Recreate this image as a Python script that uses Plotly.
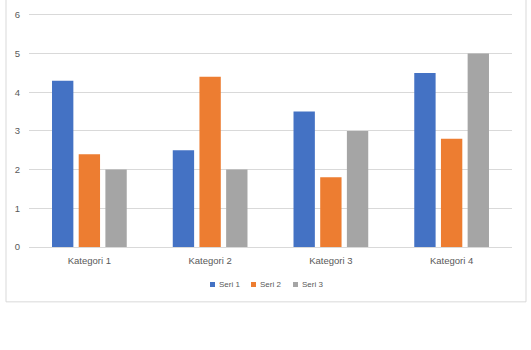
import plotly.graph_objects as go

categories = ["Kategori 1", "Kategori 2", "Kategori 3", "Kategori 4"]
seri1 = [4.3, 2.5, 3.5, 4.5]
seri2 = [2.4, 4.4, 1.8, 2.8]
seri3 = [2.0, 2.0, 3.0, 5.0]
series_names = ["Seri 1", "Seri 2", "Seri 3"]
colors = ["#4472C4", "#ED7D31", "#A5A5A5"]

W, H = 531, 350
YMAX = 6.1
UNIT = 39.0
L, R, B = 29, 19, 103.3
T = H - B - UNIT * YMAX

fig = go.Figure()
for name, vals, c in zip(series_names, [seri1, seri2, seri3], colors):
    fig.add_trace(go.Bar(x=categories, y=vals, name=name, marker_color=c,
                         marker_line_width=0, showlegend=False))

pw = W - L - R
ph = H - T - B
def px2x(p):
    return (p - L) / pw
def px2y(p):
    return (H - B - p) / ph

fig.add_shape(type="rect", xref="paper", yref="paper",
              x0=px2x(6), x1=px2x(526), y0=px2y(302), y1=px2y(-6),
              line=dict(color="#D9D9D9", width=1), fillcolor="rgba(0,0,0,0)", layer="below")

# manual legend
leg_x = [210, 251, 293]
leg_y = 284.5
for name, c, lx in zip(series_names, colors, leg_x):
    fig.add_shape(type="rect", xref="paper", yref="paper",
                  x0=px2x(lx), x1=px2x(lx + 5), y0=px2y(leg_y + 2.5), y1=px2y(leg_y - 2.5),
                  line=dict(width=0), fillcolor=c)
    fig.add_annotation(xref="paper", yref="paper", x=px2x(lx + 6.5), y=px2y(leg_y),
                       text=name, showarrow=False, xanchor="left", yanchor="middle",
                       font=dict(size=8, color="#595959"))

fig.update_layout(
    width=W, height=H,
    margin=dict(l=L, r=R, t=T, b=B, pad=0),
    paper_bgcolor="white", plot_bgcolor="white",
    barmode="group", bargap=0.337, bargroupgap=0.2,
    font=dict(family="Liberation Sans, Arial, sans-serif", color="#595959", size=9),
    showlegend=False,
    xaxis=dict(showgrid=False, showline=True, linecolor="#D9D9D9", linewidth=1,
               ticks="", tickfont=dict(size=9.5, color="#595959"), ticklabelstandoff=5),
    yaxis=dict(range=[0, YMAX], tickvals=[0, 1, 2, 3, 4, 5, 6], showgrid=True,
               gridcolor="#D9D9D9", gridwidth=1,
               zeroline=False, showline=False, ticks="",
               tickfont=dict(size=9.5, color="#595959"), ticklabelstandoff=8),
)

fig.write_html("out.html")
